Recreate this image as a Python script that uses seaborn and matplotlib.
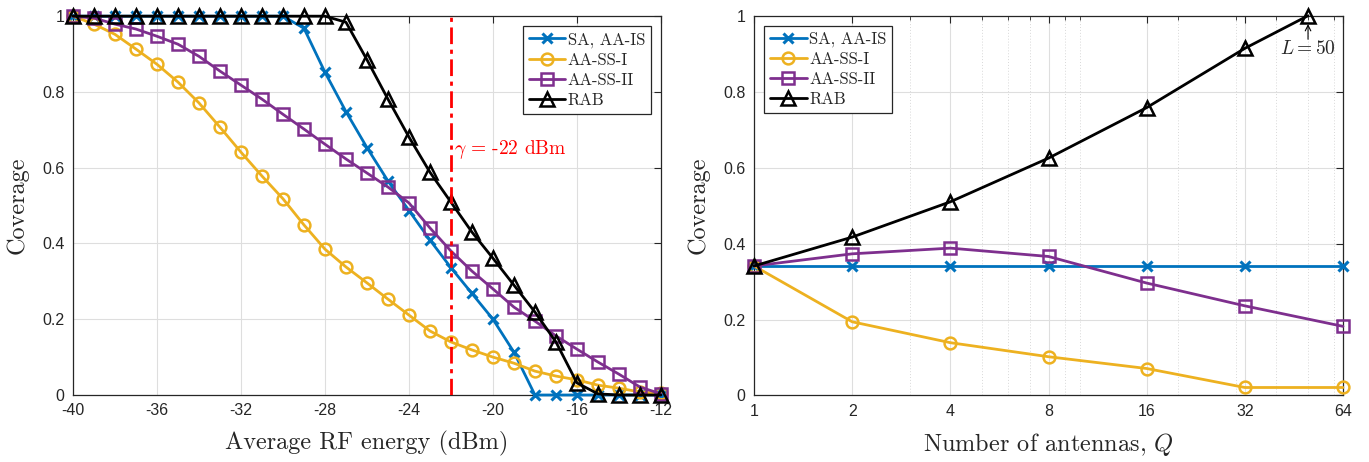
import matplotlib
matplotlib.use("Agg")
import matplotlib.pyplot as plt
import matplotlib.ticker as mticker
import seaborn as sns
import numpy as np

# ---------------- data ----------------
rf_energy = [-40, -39, -38, -37, -36, -35, -34, -33, -32, -31, -30, -29, -28, -27, -26,
             -25, -24, -23, -22, -21, -20, -19, -18, -17, -16, -15, -14, -13, -12]
cov_sa = [1, 1, 1, 1, 1, 1, 1, 1, 1, 1, 1, 0.968, 0.852, 0.748, 0.653, 0.565, 0.487,
          0.409, 0.336, 0.268, 0.2, 0.113, 0, 0, 0, 0, 0, 0, 0]
cov_ss1 = [1, 0.979, 0.952, 0.913, 0.873, 0.826, 0.771, 0.707, 0.641, 0.578, 0.518,
           0.449, 0.385, 0.338, 0.296, 0.253, 0.211, 0.169, 0.14, 0.119, 0.1, 0.084,
           0.063, 0.05, 0.04, 0.026, 0.018, 0.008, 0.004]
cov_ss2 = [1, 0.995, 0.979, 0.966, 0.947, 0.926, 0.894, 0.855, 0.818, 0.781, 0.741,
           0.702, 0.662, 0.623, 0.586, 0.549, 0.507, 0.441, 0.38, 0.327, 0.28, 0.232,
           0.195, 0.156, 0.121, 0.087, 0.055, 0.021, 0.003]
cov_rab = [1, 1, 1, 1, 1, 1, 1, 1, 1, 1, 1, 1, 1, 0.984, 0.885, 0.781, 0.681, 0.588,
           0.509, 0.43, 0.361, 0.29, 0.219, 0.14, 0.032, 0.003, 0, 0, 0]

antennas = [1, 2, 4, 8, 16, 32, 64]
antennas_rab = [1, 2, 4, 8, 16, 32, 50]
q_sa = [0.341, 0.341, 0.341, 0.341, 0.341, 0.341, 0.341]
q_ss1 = [0.341, 0.194, 0.139, 0.102, 0.071, 0.021, 0.021]
q_ss2 = [0.341, 0.373, 0.388, 0.366, 0.296, 0.236, 0.182]
q_rab = [0.341, 0.417, 0.51, 0.625, 0.758, 0.914, 1.0]

labels = ["SA, AA-IS", "AA-SS-I", "AA-SS-II", "RAB"]
x_ticks_left = [-40, -36, -32, -28, -24, -20, -16, -12]
x_ticks_right = [1, 2, 4, 8, 16, 32, 64]
minor_right = [3, 5, 6, 7, 9, 10, 20, 30, 40, 50, 60]
y_ticks = [0, 0.2, 0.4, 0.6, 0.8, 1.0]
y_ticklabels = ["0", "0.2", "0.4", "0.6", "0.8", "1"]
gamma_db = -22

# ---------------- style ----------------
sns.set_style("white")
plt.rcParams["font.family"] = ["Liberation Sans", "DejaVu Sans"]
plt.rcParams["mathtext.fontset"] = "cm"
plt.rcParams["axes.unicode_minus"] = False

C_BLUE = "#0072BD"
C_YEL = "#EDB120"
C_PUR = "#7E2F8E"
C_BLK = "#000000"

styles = [
    dict(color=C_BLUE, marker="x", markersize=7, markeredgewidth=2.2,
         markeredgecolor=C_BLUE),
    dict(color=C_YEL, marker="o", markersize=8.5, markeredgewidth=1.8,
         markerfacecolor="none", markeredgecolor=C_YEL),
    dict(color=C_PUR, marker="s", markersize=8.5, markeredgewidth=1.8,
         markerfacecolor="none", markeredgecolor=C_PUR),
    dict(color=C_BLK, marker="^", markersize=10, markeredgewidth=1.8,
         markerfacecolor="none", markeredgecolor=C_BLK),
]

fig = plt.figure(figsize=(13.69, 4.62), dpi=100)
axL = fig.add_axes([0.0533, 0.145, 0.4295, 0.820])
axR = fig.add_axes([0.5508, 0.144, 0.4302, 0.822])

SERIF = "cmr10"
LEG_KW = dict(prop={"family": SERIF, "size": 12}, frameon=True, fancybox=False,
              edgecolor="#262626", framealpha=1, handlelength=2.2, handletextpad=0.15,
              borderpad=0.35, labelspacing=0.28, borderaxespad=0.6)


def style_axes(ax):
    for s in ax.spines.values():
        s.set_color("#262626")
        s.set_linewidth(0.9)
    ax.tick_params(direction="in", top=True, right=True, length=5, width=0.8,
                   colors="#262626", labelsize=11.5, pad=6)
    ax.set_yticks(y_ticks)
    ax.set_yticklabels(y_ticklabels)
    ax.set_ylim(0, 1)
    ax.grid(True, which="major", color="#dedede", linewidth=0.8)
    ax.set_axisbelow(True)
    ax.set_ylabel("Coverage", fontfamily=SERIF, fontsize=17.5, labelpad=10)


# ---------------- left panel ----------------
left_series = [cov_sa, cov_ss1, cov_ss2, cov_rab]
for lab, ys, st in zip(labels, left_series, styles):
    sns.lineplot(x=rf_energy, y=ys, ax=axL, label=lab, linewidth=2, clip_on=False,
                 zorder=3, **st)
axL.set_xlim(-40, -12)
axL.set_xticks(x_ticks_left)
style_axes(axL)
axL.set_xlabel("Average RF energy (dBm)", fontfamily=SERIF, fontsize=17.5, labelpad=9)
axL.axvline(gamma_db, color="red", linewidth=2, linestyle=(0, (6, 2, 1.5, 2)), zorder=4)
axL.text(gamma_db + 0.15, 0.649, r"$\gamma\,=\,$-22 dBm", color="red", fontsize=14,
         fontfamily=SERIF, va="center", ha="left")
legL = axL.legend(loc="upper right", **LEG_KW)
legL.get_frame().set_linewidth(0.9)

# ---------------- right panel ----------------
right_x = [antennas, antennas, antennas, antennas_rab]
right_series = [q_sa, q_ss1, q_ss2, q_rab]
for lab, xs, ys, st in zip(labels, right_x, right_series, styles):
    sns.lineplot(x=xs, y=ys, ax=axR, label=lab, linewidth=2, clip_on=False,
                 zorder=3, **st)
axR.set_xscale("log", base=2)
axR.set_xlim(1, 64)
axR.set_xticks(x_ticks_right)
axR.xaxis.set_major_formatter(mticker.FixedFormatter([str(v) for v in x_ticks_right]))
axR.xaxis.set_minor_locator(mticker.FixedLocator(minor_right))
axR.xaxis.set_minor_formatter(mticker.NullFormatter())
style_axes(axR)
axR.tick_params(which="minor", direction="in", top=True, length=3, width=0.6,
                colors="#262626")
axR.grid(True, which="minor", axis="x", color="#d8d8d8", linewidth=0.7,
         linestyle=(0, (1, 2)))
axR.set_xlabel(r"Number of antennas, $Q$", fontfamily=SERIF, fontsize=17.5, labelpad=9)
axR.annotate("", xy=(50, 0.978), xytext=(50, 0.938),
             arrowprops=dict(arrowstyle="->", lw=0.8, color="black",
                             shrinkA=0, shrinkB=0))
axR.text(50, 0.913, r"$L=50$", fontsize=14, ha="center", va="center")
legR = axR.legend(loc="upper left", **LEG_KW)
legR.get_frame().set_linewidth(0.9)

fig.savefig("out.png", dpi=100)
